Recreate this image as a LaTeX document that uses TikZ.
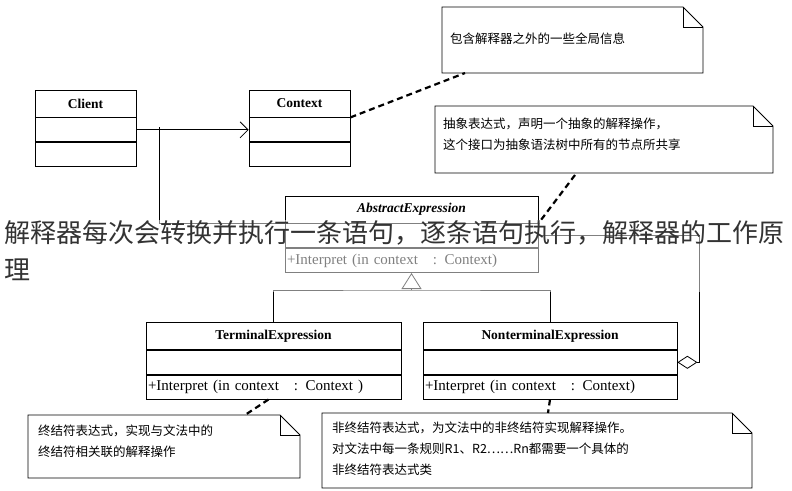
\documentclass[tikz,border=0pt]{standalone}
\usepackage{fontspec}
\setmainfont{Liberation Serif}
\newfontfamily\cjk{Noto Sans CJK SC}
\usetikzlibrary{positioning, calc, arrows.meta}

\tikzset{
  clsname/.style={draw, thick, minimum width=#1, minimum height=27pt, inner sep=0pt, font=\bfseries\fontsize{13.5}{13.5}\selectfont},
  comp/.style={draw, thick, minimum width=#1, minimum height=24pt, inner sep=0pt, font=\fontsize{15}{15}\selectfont},
  ops/.style={comp=#1, text width=#1-4pt, inner xsep=2pt, align=left},
  notetext/.style={align=left, anchor=north west, inner sep=0pt, font=\cjk\fontsize{12.5}{21}\selectfont},
  notelink/.style={line width=2.2pt, dash pattern=on 6pt off 4pt},
  link/.style={thick}
}

\newcommand{\notebox}[4]{% x1,y1,x2,y2
  \draw[thick] (#1,#4) -- (#1,#2) -- (#3-20,#2) -- (#3,#2+20) -- (#3,#4) -- cycle;
  \draw[thick] (#3-20,#2) -- (#3-20,#2+20) -- (#3,#2+20);
}

\begin{document}
\begin{tikzpicture}[x=1pt,y=-1pt]
  \useasboundingbox (0,0) rectangle (792,490);
  \fill[white] (0,0) rectangle (792,490);

  % classes
  \node[clsname=101pt] (client) at (85.5,103.5) {Client};
  \node[comp=101pt, below=0pt of client] (clientA) {};
  \node[comp=101pt, below=0pt of clientA] (clientB) {};

  \node[clsname=101pt] (context) at (299.5,103.5) {Context};
  \node[comp=101pt, below=0pt of context] (contextA) {};
  \node[comp=101pt, below=0pt of contextA] (contextB) {};

  \node[clsname=253pt, font=\bfseries\itshape\fontsize{13.5}{13.5}\selectfont] (abs) at (411.5,209.5) {AbstractExpression};
  \node[comp=253pt, below=0pt of abs] (absA) {};
  \node[ops=253pt, below=0pt of absA] (absB) {+Interpret (in context~~ : Context)};

  \node[clsname=255pt] (term) at (273.5,336) {TerminalExpression};
  \node[comp=255pt, below=0pt of term] (termA) {};
  \node[ops=255pt, below=0pt of termA] (termB) {+Interpret (in context~~ : Context )};

  \node[clsname=254pt] (nonterm) at (550,336) {NonterminalExpression};
  \node[comp=254pt, below=0pt of nonterm] (nontermA) {};
  \node[ops=254pt, below=0pt of nontermA] (nontermB) {+Interpret (in context~~ : Context)};

  % relations
  \coordinate (jn) at (159,127);
  \draw[link, -{Straight Barb[length=8pt,width=16pt]}] (clientA.east) -- (contextA.west);
  \draw[link] (jn) |- (absA.north west);
  \coordinate (inh) at (411.5,290);
  \draw[link] (term.north) |- (inh) -| (nonterm.north);
  \draw[link, -{Triangle[open,length=16pt,width=20pt]}] (inh) -- (absB.south);
  \draw[link, {Diamond[open,length=20pt,width=13pt]}-] (nontermA.east) -- ++(22,0) |- (absA.east);

  % notes
  \notebox{442}{7}{703}{73}
  \node[notetext] (note1) at (450,33) {包含解释器之外的一些全局信息};
  \notebox{435}{106}{773}{173}
  \node[notetext] (note2) at (443,118) {抽象表达式，声明一个抽象的解释操作，\\这个接口为抽象语法树中所有的节点所共享};
  \notebox{28}{415}{300}{478}
  \node[notetext] (note3) at (38,425) {终结符表达式，实现与文法中的\\终结符相关联的解释操作};
  \notebox{322}{413}{752}{488}
  \node[notetext] (note4) at (332,422) {非终结符表达式，为文法中的非终结符实现解释操作。\\对文法中每一条规则R1、R2……Rn都需要一个具体的\\非终结符表达式类};

  \draw[notelink] (context.east |- contextA.north) -- (465,73);
  \draw[notelink] (575,175) -- (abs.north east |- absA.north);
  \draw[notelink] (termB.south) ++(-5,0) -- (245,415);
  \draw[notelink] (nontermB.south) -- (548,413);

  % caption overlay
  \fill[white, opacity=0.5] (0,220) rectangle (792,292);
  \node[anchor=north west, inner sep=0pt, align=left, text=black!80, font=\cjk\fontsize{26}{37}\selectfont] (caption) at (4,220) {解释器每次会转换并执行一条语句，逐条语句执行，解释器的工作原\\理};
\end{tikzpicture}
\end{document}
